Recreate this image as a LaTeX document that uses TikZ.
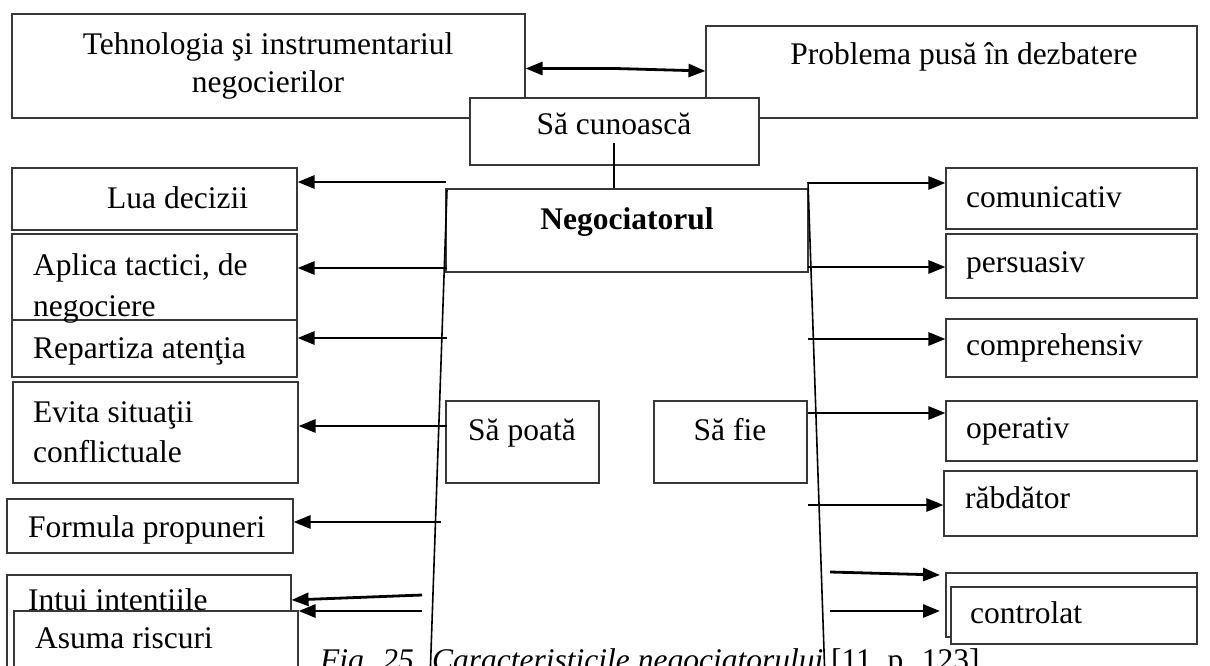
\documentclass[tikz,border=0pt]{standalone}
\usepackage{fontspec}
\setmainfont{Liberation Serif}
\usetikzlibrary{arrows.meta,fit}
\begin{document}
\begin{tikzpicture}[x=1pt,y=-1pt,
  box/.style={draw=black!78, line width=1.1pt, fill=white, inner sep=0pt, rectangle},
  txt/.style={inner sep=0pt, anchor=base west, font=\fontsize{31.5}{38}\selectfont},
  ctxt/.style={txt, anchor=base},
  arr/.style={line width=2.8pt, -{Triangle[length=17pt,width=13pt]}},
  darr/.style={line width=2.8pt, {Triangle[length=17pt,width=13pt]}-{Triangle[length=17pt,width=13pt]}},
  rail/.style={line width=1.6pt}]
\useasboundingbox (0,0) rectangle (1210,666);

% top row
\node[box, fit={(12,14) (525,118)}] (teh) {};
\node[box, fit={(706,26) (1197,118)}] (prob) {};
\node[box, fit={(470,98) (759,165)}] (cun) {};
\node[ctxt] (teh1) at (268,55) {Tehnologia şi instrumentariul};
\node[ctxt] (teh2) at (268,93) {negocierilor};
\node[ctxt] (probt) at (964,65) {Problema pusă în dezbatere};
\node[ctxt] (cunt) at (614,135) {Să cunoască};

% centre
\node[box, fit={(446,189) (808,272)}] (neg) {};
\node[ctxt, font=\fontsize{31.5}{38}\selectfont\bfseries] (negt) at (627,229) {Negociatorul};
\node[box, fit={(446,401) (599,483)}] (pot) {};
\node[ctxt] (pott) at (522,440) {Să poată};
\node[box, fit={(654,401) (807,483)}] (fie) {};
\node[ctxt] (fiet) at (730,440) {Să fie};

% left column
\node[box, fit={(12,168) (297,230)}] (lua) {};
\node[txt] (luat) at (107,208) {Lua decizii};
\node[box, fit={(12,234) (297,320)}] (apl) {};
\node[box, fit={(12,320) (297,377)}] (rep) {};
\node[txt] (aplt1) at (33,275) {Aplica tactici, de};
\node[txt] (aplt2) at (33,316) {negociere};
\node[txt] (rept) at (33,358) {Repartiza atenţia};
\node[box, fit={(13,382) (298,483)}] (evi) {};
\node[txt] (evit1) at (33,422) {Evita situaţii};
\node[txt] (evit2) at (33,462) {conflictuale};
\node[box, fit={(7,499) (293,553)}] (form) {};
\node[txt] (formt) at (28,537) {Formula propuneri};
\node[box, fit={(7,575) (291,690)}] (intu) {};
\node[txt] (intut) at (28,610) {Intui intenţiile};
\node[box, fit={(14,611) (298,690)}] (asu) {};
\node[txt] (asut) at (35,648) {Asuma riscuri};

% right column
\node[box, fit={(946,168) (1197,229)}] (com) {};
\node[txt] (comt) at (966,207) {comunicativ};
\node[box, fit={(946,234) (1197,298)}] (pers) {};
\node[txt] (perst) at (966,272) {persuasiv};
\node[box, fit={(946,319) (1197,377)}] (cmp) {};
\node[txt] (cmpt) at (966,355) {comprehensiv};
\node[box, fit={(946,401) (1197,461)}] (ope) {};
\node[txt] (opet) at (966,438) {operativ};
\node[box, fit={(944,471) (1197,536)}] (rab) {};
\node[txt] (rabt) at (965,508) {răbdător};
\node[box, fit={(946,573) (1197,637)}] (ctla) {};
\node[box, fit={(951,587) (1197,644)}] (ctlb) {};
\node[txt] (ctlt) at (970,623) {controlat};

% caption
\node[txt] (cap) at (320,670) {\itshape Fig. 25. Caracteristicile negociatorului \upshape[11, p. 123]};

% link between the two upper boxes
\coordinate (dmid) at (615,68.5);
\coordinate (dR) at (706,71);
\draw[darr] (dmid -| teh.east) -- (dmid) -- (dR -| prob.west);

% stem from "Să cunoască"
\coordinate (stem) at (614,143);
\draw[line width=1.1pt] (stem) -- (stem |- neg.north);

% the two slanted rails
\coordinate (lrt) at (447,190);
\coordinate (lrb) at (430,680);
\coordinate (rrt) at (808,182);
\coordinate (rrb) at (825,680);
\draw[rail] (lrt) -- (lrb);
\draw[rail] (rrt) -- (rrb);

% left arrows
\coordinate (la1) at (446,182);
\coordinate (la2) at (447,268);
\coordinate (la3) at (447,338);
\coordinate (la4) at (447,426);
\coordinate (la5) at (441,522);
\coordinate (la6) at (422,595);
\coordinate (la6e) at (291,600);
\coordinate (la7) at (422,611);
\draw[arr] (la1) -- (la1 -| lua.east);
\draw[arr] (la2) -- (la2 -| apl.east);
\draw[arr] (la3) -- (la3 -| rep.east);
\draw[arr] (la4) -- (la4 -| evi.east);
\draw[arr] (la5) -- (la5 -| form.east);
\draw[arr] (la6) -- (la6e -| intu.east);
\draw[arr] (la7) -- (la7 -| asu.east);

% right arrows
\coordinate (ra1) at (808,183);
\coordinate (ra2) at (808,267);
\coordinate (ra3) at (808,339);
\coordinate (ra4) at (808,413);
\coordinate (ra5) at (808,505);
\coordinate (ra6) at (830,572);
\coordinate (ra6e) at (940,575);
\coordinate (ra7) at (830,611);
\coordinate (ra7e) at (940,611);
\draw[arr] (ra1) -- (ra1 -| com.west);
\draw[arr] (ra2) -- (ra2 -| pers.west);
\draw[arr] (ra3) -- (ra3 -| cmp.west);
\draw[arr] (ra4) -- (ra4 -| ope.west);
\draw[arr] (ra5) -- (ra5 -| rab.west);
\draw[arr] (ra6) -- (ra6e);
\draw[arr] (ra7) -- (ra7e);
\end{tikzpicture}
\end{document}
